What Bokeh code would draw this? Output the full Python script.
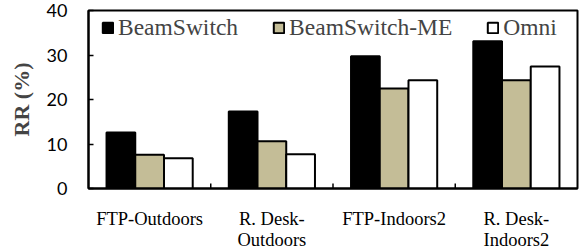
from bokeh.plotting import figure
from bokeh.models import ColumnDataSource, Range1d, FactorRange, Legend
from bokeh.transform import dodge
from bokeh.embed import file_html
from bokeh.resources import INLINE

categories = ["FTP-Outdoors", "R. Desk-\nOutdoors", "FTP-Indoors2", "R. Desk-\nIndoors2"]
beamswitch = [12.6, 17.3, 29.7, 33.1]
beamswitch_me = [7.6, 10.6, 22.5, 24.3]
omni = [6.8, 7.7, 24.3, 27.4]
y_ticks = [0, 10, 20, 30, 40]

source = ColumnDataSource(data=dict(cat=categories, bs=beamswitch, me=beamswitch_me, om=omni))
sep_source = ColumnDataSource(data=dict(cat=categories[:-1], y0=[0] * (len(categories) - 1)))

p = figure(frame_width=489, frame_height=178, x_range=FactorRange(*categories), y_range=Range1d(0, 40),
           output_backend="svg", toolbar_location=None,
           min_border_left=88, min_border_right=2, min_border_top=10, min_border_bottom=64)

serif = "Liberation Serif"
bw = 0.235
r1 = p.vbar(x=dodge('cat', -bw, range=p.x_range), top='bs', width=bw, source=source,
            fill_color="black", line_color="black", line_width=2)
r2 = p.vbar(x=dodge('cat', 0, range=p.x_range), top='me', width=bw, source=source,
            fill_color="#C4BD97", line_color="black", line_width=2)
r3 = p.vbar(x=dodge('cat', bw, range=p.x_range), top='om', width=bw, source=source,
            fill_color="white", line_color="black", line_width=2)

# category separator ticks on the bottom axis
p.segment(x0=dodge('cat', 0.5, range=p.x_range), y0='y0',
          x1=dodge('cat', 0.5, range=p.x_range), y1=1.1,
          source=sep_source, line_color="black", line_width=1.5)

legend = Legend(items=[("BeamSwitch", [r1]), ("BeamSwitch-ME", [r2]), ("Omni", [r3])],
                orientation="horizontal", location=(13, 147))
legend.border_line_color = None
legend.background_fill_alpha = 0
legend.label_text_font = serif
legend.label_text_font_size = "23.5px"
legend.glyph_width = 13
legend.glyph_height = 13
legend.label_standoff = 4
legend.spacing = 34
legend.padding = 2
legend.margin = 0
p.add_layout(legend, "center")

p.xgrid.grid_line_color = None
p.ygrid.grid_line_color = None
p.outline_line_color = "black"
p.outline_line_width = 2
p.outline_line_alpha = 1

p.yaxis.ticker = y_ticks
p.yaxis.major_tick_in = 5
p.yaxis.major_tick_out = 0
p.yaxis.minor_tick_line_color = None
p.yaxis.major_tick_line_width = 1.5
p.yaxis.axis_line_width = 2
p.yaxis.major_label_text_font = "Lato"
p.yaxis.major_label_text_font_size = "18px"
p.yaxis.major_label_standoff = 21
p.yaxis.axis_label = "RR (%)"
p.yaxis.axis_label_text_font = serif
p.yaxis.axis_label_text_font_style = "bold"
p.yaxis.axis_label_text_font_size = "22px"
p.yaxis.axis_label_standoff = 10

p.xaxis.major_tick_line_color = None
p.xaxis.axis_line_width = 2
p.xaxis.major_label_text_font = serif
p.xaxis.major_label_text_font_size = "18.5px"
p.xaxis.major_label_text_line_height = 1.05
p.xaxis.major_label_standoff = 14
p.xaxis.major_label_text_color = "black"
p.yaxis.major_label_text_color = "black"

open("out.html", "w").write(file_html(p, INLINE))
